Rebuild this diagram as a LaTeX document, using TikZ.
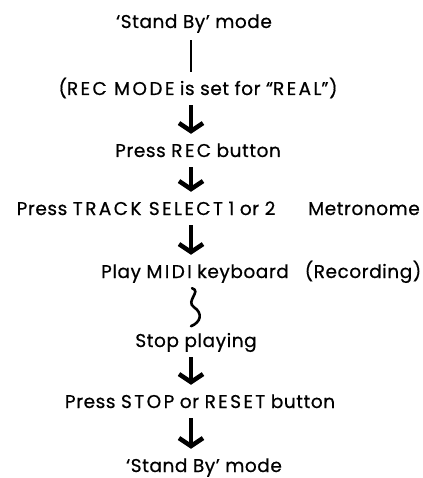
\documentclass[tikz,border=0pt]{standalone}
\usepackage{fontspec}
\setmainfont{Poppins}[LetterSpace=3, FakeBold=0.6]
\usetikzlibrary{arrows.meta}

% wider tracking for the words in capitals
\newcommand{\capsword}[1]{{\addfontfeatures{LetterSpace=13}#1}}

\tikzset{
  flowtext/.style={font=\fontsize{18.5}{22}\selectfont, inner sep=0pt, anchor=base,
    text height=13pt, text depth=4pt},
  downarrow/.style={line width=4.5pt, shorten <=6pt, shorten >=10pt,
    -{Straight Barb[length=8pt 0, width=24pt 0, line width=4.5pt]}},
}

\begin{document}
\begin{tikzpicture}[x=1pt, y=1pt]
        \useasboundingbox (0,0) rectangle (422,-478);

        % Column of the arrows
        \coordinate (spine) at (191,0);

        % Steps of the recording procedure
        \node[flowtext] (standA) at (194,-28) {‘Stand By’ mode};
        \node[flowtext] (recmode) at (198,-95) {(\capsword{REC MODE} is set for “\capsword{REAL}”)};
        \node[flowtext] (pressrec) at (198,-157) {Press \capsword{REC} button};
        \node[flowtext] (track) at (146,-215) {Press \capsword{TRACK SELECT} 1 or 2};
        \node[flowtext] (metro) at (364,-215) {Metronome};
        \node[flowtext] (play) at (195,-278) {Play \capsword{MIDI} keyboard};
        \node[flowtext] (recording) at (363,-278) {(Recording)};
        \node[flowtext] (stop) at (196,-347) {Stop playing};
        \node[flowtext] (pressstop) at (200,-408) {Press \capsword{STOP} or \capsword{RESET} button};
        \node[flowtext] (standB) at (204,-472) {‘Stand By’ mode};

        % Plain line below the first mode
        \draw[line width=2.2pt, shorten <=8pt, shorten >=10pt]
            (spine |- standA.south) -- (spine |- recmode.north);

        % Bold arrows between the steps
        \draw[downarrow] (spine |- recmode.south) -- (spine |- pressrec.north);
        \draw[downarrow] (spine |- pressrec.south) -- (spine |- track.north);
        \draw[downarrow] (spine |- track.south) -- (spine |- play.north);
        \draw[downarrow] (spine |- stop.south) -- (spine |- pressstop.north);
        \draw[downarrow] (spine |- pressstop.south) -- (spine |- standB.north);

        % Squiggle while playing
        \draw[line width=2.6pt, line cap=round]
            ([xshift=1pt, yshift=-6pt]spine |- play.south)
            .. controls +(10,-3) and +(-9,6) .. +(2,-19)
            .. controls +(9,-6) and +(10,4) .. +(-1,-38);

\end{tikzpicture}
\end{document}
